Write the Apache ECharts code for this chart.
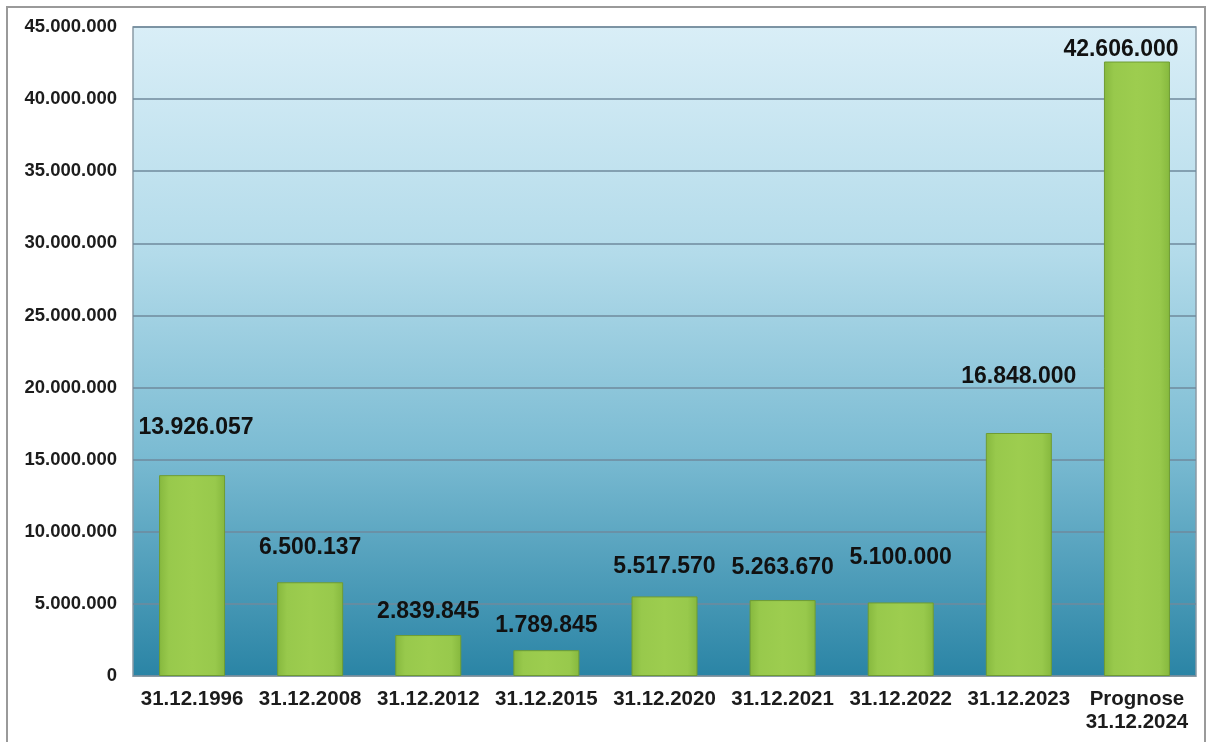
<!DOCTYPE html>
<html>
<head>
<meta charset="utf-8">
<script src="https://cdn.jsdelivr.net/npm/echarts@6/dist/echarts.min.js"></script>
<style>
html,body{margin:0;padding:0;background:#fff;}
#c{width:1208px;height:742px;}
</style>
</head>
<body>
<div id="c"></div>
<script>
const categories = ['31.12.1996','31.12.2008','31.12.2012','31.12.2015','31.12.2020','31.12.2021','31.12.2022','31.12.2023','Prognose\n31.12.2024'];
const values = [13926057, 6500137, 2839845, 1789845, 5517570, 5263670, 5100000, 16848000, 42606000];
const labelGaps = [36, 23, 12, 13, 18, 21, 33, 45, 0];
const labelShifts = [4, 0, 0, 0, 0, 0, 0, 0, -16];

function fmt(v){ return String(v).replace(/\B(?=(\d{3})+(?!\d))/g, '.'); }

const chart = echarts.init(document.getElementById('c'));
const barColor = {
  type:'linear', x:0, y:0, x2:1, y2:0,
  colorStops:[{offset:0,color:'#86b83e'},{offset:0.15,color:'#98c94c'},{offset:0.5,color:'#9dcd4f'},{offset:0.85,color:'#98c94c'},{offset:1,color:'#86b83e'}]
};
chart.setOption({
  animation:false,
  graphic:[{
    type:'rect', shape:{x:7,y:7,width:1198,height:760},
    style:{fill:'none', stroke:'#9a9a9a', lineWidth:2}, z:-10
  }],
  grid:{left:133, right:12, top:27, bottom:66, show:true,
    backgroundColor:{type:'linear',x:0,y:0,x2:0,y2:1,colorStops:[
      {offset:0,color:'#d9eef7'},{offset:0.35,color:'#b3dbea'},{offset:0.65,color:'#7cbcd3'},{offset:1,color:'#2a84a5'}]},
    borderColor:'#8a9ba5', borderWidth:1.5},
  xAxis:{type:'category', data:categories,
    axisLine:{show:true,lineStyle:{color:'#8a9ba5'}}, axisTick:{show:false},
    axisLabel:{color:'#1c1c1c', fontFamily:'Liberation Sans, Arial', fontWeight:'bold', fontSize:20.5, margin:12, lineHeight:23, interval:0}},
  yAxis:{type:'value', min:0, max:45000000, interval:5000000,
    axisLine:{show:false}, axisTick:{show:false},
    splitLine:{lineStyle:{color:'#6f8a9c', width:1.5}},
    axisLabel:{color:'#1c1c1c', fontFamily:'Liberation Sans, Arial', fontWeight:'bold', fontSize:18.5, margin:16, formatter:fmt}},
  series:[{
    type:'bar', barWidth:66,
    data: values.map((v,i)=>({value:v, label:{distance:labelGaps[i], offset:[labelShifts[i],0]}})),
    itemStyle:{color:barColor, borderColor:'#6f9c33', borderWidth:1},
    label:{show:true, position:'top', color:'#111', fontFamily:'Liberation Sans, Arial', fontWeight:'bold', fontSize:23,
      formatter:p=>fmt(p.value)}
  }]
});
</script>
</body>
</html>
